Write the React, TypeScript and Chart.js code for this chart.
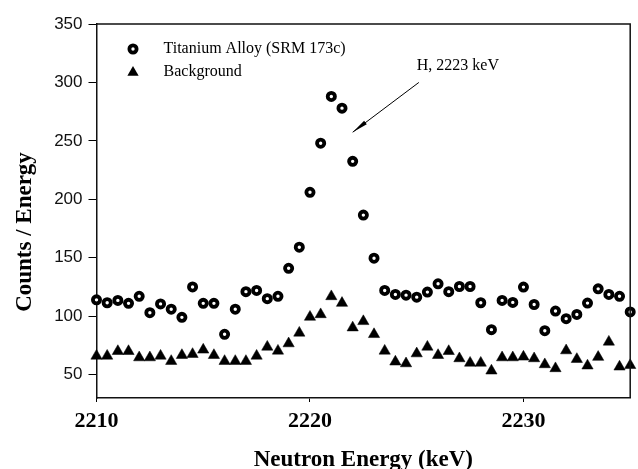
import React, { useEffect, useRef } from "react";
import { Chart, registerables } from "chart.js";

Chart.register(...registerables);

const energies = [
  2210, 2210.5, 2211, 2211.5, 2212, 2212.5, 2213, 2213.5, 2214, 2214.5,
  2215, 2215.5, 2216, 2216.5, 2217, 2217.5, 2218, 2218.5, 2219, 2219.5,
  2220, 2220.5, 2221, 2221.5, 2222, 2222.5, 2223, 2223.5, 2224, 2224.5,
  2225, 2225.5, 2226, 2226.5, 2227, 2227.5, 2228, 2228.5, 2229, 2229.5,
  2230, 2230.5, 2231, 2231.5, 2232, 2232.5, 2233, 2233.5, 2234, 2234.5,
  2235,
];

const titaniumCounts = [
  114, 111.5, 113.5, 111, 117, 103, 110.5, 106, 99, 125,
  111, 111, 84.5, 106, 121, 122, 115, 117, 141, 159,
  206, 248, 288, 278, 232.5, 186.5, 149.6, 122, 118.6, 118,
  116.3, 120.6, 127.7, 121, 125.4, 125.4, 111.5, 88.5, 113.5, 111.8,
  124.9, 110, 87.6, 104.4, 97.9, 101.5, 111.2, 123.4, 118.6, 117,
  103.6,
];

const backgroundCounts = [
  66, 66, 70, 70, 64.6, 64.6, 66, 61.5, 66.6, 67.5,
  71.2, 66.6, 61.5, 61.5, 61.5, 66, 73.7, 70.3, 76.6, 85.7,
  99.3, 101.5, 116.9, 111.2, 90.2, 95.6, 84.5, 70.3, 61, 59.5,
  68, 73.7, 66.6, 70, 63.8, 60, 60, 53.3, 64.6, 64.6,
  65.2, 63.8, 58.7, 55.3, 70.6, 63.2, 57.6, 65, 78, 56.7,
  58,
];

const xTicks = [2210, 2220, 2230];
const yTicks = [50, 100, 150, 200, 250, 300, 350];

const seriesNames = ["Titanium Alloy (SRM 173c)", "Background"];
const annotationText = "H, 2223 keV";
const annotationTextPos = { x: 2225.0, y: 314 };
const arrowStart = { x: 2225.1, y: 300 };
const arrowEnd = { x: 2222.0, y: 257.4 };

const SERIF = "'Liberation Serif', 'Times New Roman', serif";
const SANS = "'Liberation Sans', Arial, sans-serif";

const CIRCLE_R = 3.6;
const CIRCLE_BW = 3.8;
const TRI_R = 6.5;

const extrasPlugin = {
  id: "extras",
  afterDraw(chart: any) {
    const ctx = chart.ctx;
    const { left, right, top, bottom } = chart.chartArea;
    const xs = chart.scales.x;
    const ys = chart.scales.y;
    ctx.save();
    // frame top/right
    ctx.strokeStyle = "#111";
    ctx.lineWidth = 1.5;
    ctx.beginPath();
    ctx.moveTo(left, top);
    ctx.lineTo(right, top);
    ctx.lineTo(right, bottom);
    ctx.stroke();

    // legend
    const lx = left + 36.5;
    const ly1 = top + 25;
    const ly2 = top + 47.5;
    ctx.fillStyle = "#fff";
    ctx.strokeStyle = "#000";
    ctx.lineWidth = CIRCLE_BW;
    ctx.beginPath();
    ctx.arc(lx, ly1, CIRCLE_R, 0, Math.PI * 2);
    ctx.fill();
    ctx.stroke();
    ctx.fillStyle = "#000";
    ctx.beginPath();
    for (let i = 0; i < 3; i++) {
      const a = (i * 2 * Math.PI) / 3;
      const px = lx + Math.sin(a) * TRI_R;
      const py = ly2 + 1 - Math.cos(a) * TRI_R;
      if (i === 0) ctx.moveTo(px, py);
      else ctx.lineTo(px, py);
    }
    ctx.closePath();
    ctx.fill();
    ctx.font = `16px ${SERIF}`;
    ctx.textBaseline = "middle";
    ctx.textAlign = "left";
    ctx.fillText(seriesNames[0], left + 67, ly1);
    ctx.fillText(seriesNames[1], left + 67, ly2);

    // annotation
    ctx.fillText(
      annotationText,
      xs.getPixelForValue(annotationTextPos.x),
      ys.getPixelForValue(annotationTextPos.y)
    );
    const x1 = xs.getPixelForValue(arrowStart.x);
    const y1 = ys.getPixelForValue(arrowStart.y);
    const x2 = xs.getPixelForValue(arrowEnd.x);
    const y2 = ys.getPixelForValue(arrowEnd.y);
    ctx.strokeStyle = "#000";
    ctx.lineWidth = 1;
    ctx.beginPath();
    ctx.moveTo(x1, y1);
    ctx.lineTo(x2, y2);
    ctx.stroke();
    const ang = Math.atan2(y2 - y1, x2 - x1);
    const hl = 16;
    const hw = 2.2;
    ctx.beginPath();
    ctx.moveTo(x2, y2);
    ctx.lineTo(
      x2 - hl * Math.cos(ang) + hw * Math.sin(ang),
      y2 - hl * Math.sin(ang) - hw * Math.cos(ang)
    );
    ctx.lineTo(
      x2 - hl * Math.cos(ang) - hw * Math.sin(ang),
      y2 - hl * Math.sin(ang) + hw * Math.cos(ang)
    );
    ctx.closePath();
    ctx.fill();

    // axis titles
    ctx.font = `bold 23px ${SERIF}`;
    ctx.textAlign = "center";
    ctx.textBaseline = "alphabetic";
    ctx.fillText("Neutron Energy (keV)", (left + right) / 2, 466);
    ctx.save();
    ctx.translate(31, 232);
    ctx.rotate(-Math.PI / 2);
    ctx.fillText("Counts / Energy", 0, 0);
    ctx.restore();
    ctx.restore();
  },
};

export default function App() {
  const canvasRef = useRef<HTMLCanvasElement>(null);

  useEffect(() => {
    if (!canvasRef.current) return;
    const chart = new Chart(canvasRef.current, {
      type: "scatter",
      data: {
        datasets: [
          {
            label: seriesNames[0],
            data: energies.map((e, i) => ({ x: e, y: titaniumCounts[i] })),
            pointStyle: "circle",
            pointRadius: CIRCLE_R,
            pointBorderWidth: CIRCLE_BW,
            borderColor: "#000",
            backgroundColor: "#fff",
            showLine: false,
            clip: false,
          },
          {
            label: seriesNames[1],
            data: energies.map((e, i) => ({ x: e, y: backgroundCounts[i] })),
            pointStyle: "triangle",
            pointRadius: TRI_R,
            pointBorderWidth: 0.5,
            borderColor: "#000",
            backgroundColor: "#000",
            showLine: false,
            clip: false,
          },
        ],
      },
      options: {
        animation: false,
        responsive: false,
        maintainAspectRatio: false,
        layout: { padding: { left: 0, right: 3, top: 24, bottom: 0 } },
        plugins: {
          legend: { display: false },
          tooltip: { enabled: false },
        },
        scales: {
          x: {
            type: "linear",
            min: 2210,
            max: 2235,
            afterBuildTicks: (s: any) => {
              s.ticks = xTicks.map((v) => ({ value: v }));
            },
            afterFit: (s: any) => {
              s.height = 71;
            },
            grid: {
              drawOnChartArea: false,
              drawTicks: true,
              tickLength: 4,
              tickColor: "#000",
            },
            border: { display: true, color: "#111", width: 1.5 },
            ticks: {
              color: "#000",
              padding: 6,
              font: { family: SERIF, size: 22, weight: "bold" },
              maxRotation: 0,
              callback: (v: any) => String(v),
            },
          },
          y: {
            type: "linear",
            min: 30,
            max: 350,
            afterBuildTicks: (s: any) => {
              s.ticks = yTicks.map((v) => ({ value: v }));
            },
            afterFit: (s: any) => {
              s.width = 96.5;
            },
            grid: {
              drawOnChartArea: false,
              drawTicks: true,
              tickLength: 8,
              tickColor: "#000",
            },
            border: { display: true, color: "#111", width: 1.5 },
            ticks: {
              color: "#111",
              padding: 6,
              font: { family: SANS, size: 17 },
              callback: (v: any) => String(v),
            },
          },
        },
      },
      plugins: [extrasPlugin],
    });
    return () => chart.destroy();
  }, []);

  return (
    <div style={{ position: "fixed", left: 0, top: 0, width: 638, height: 469, background: "#fff" }}>
      <canvas ref={canvasRef} width={638} height={469} style={{ width: 638, height: 469 }} />
    </div>
  );
}
